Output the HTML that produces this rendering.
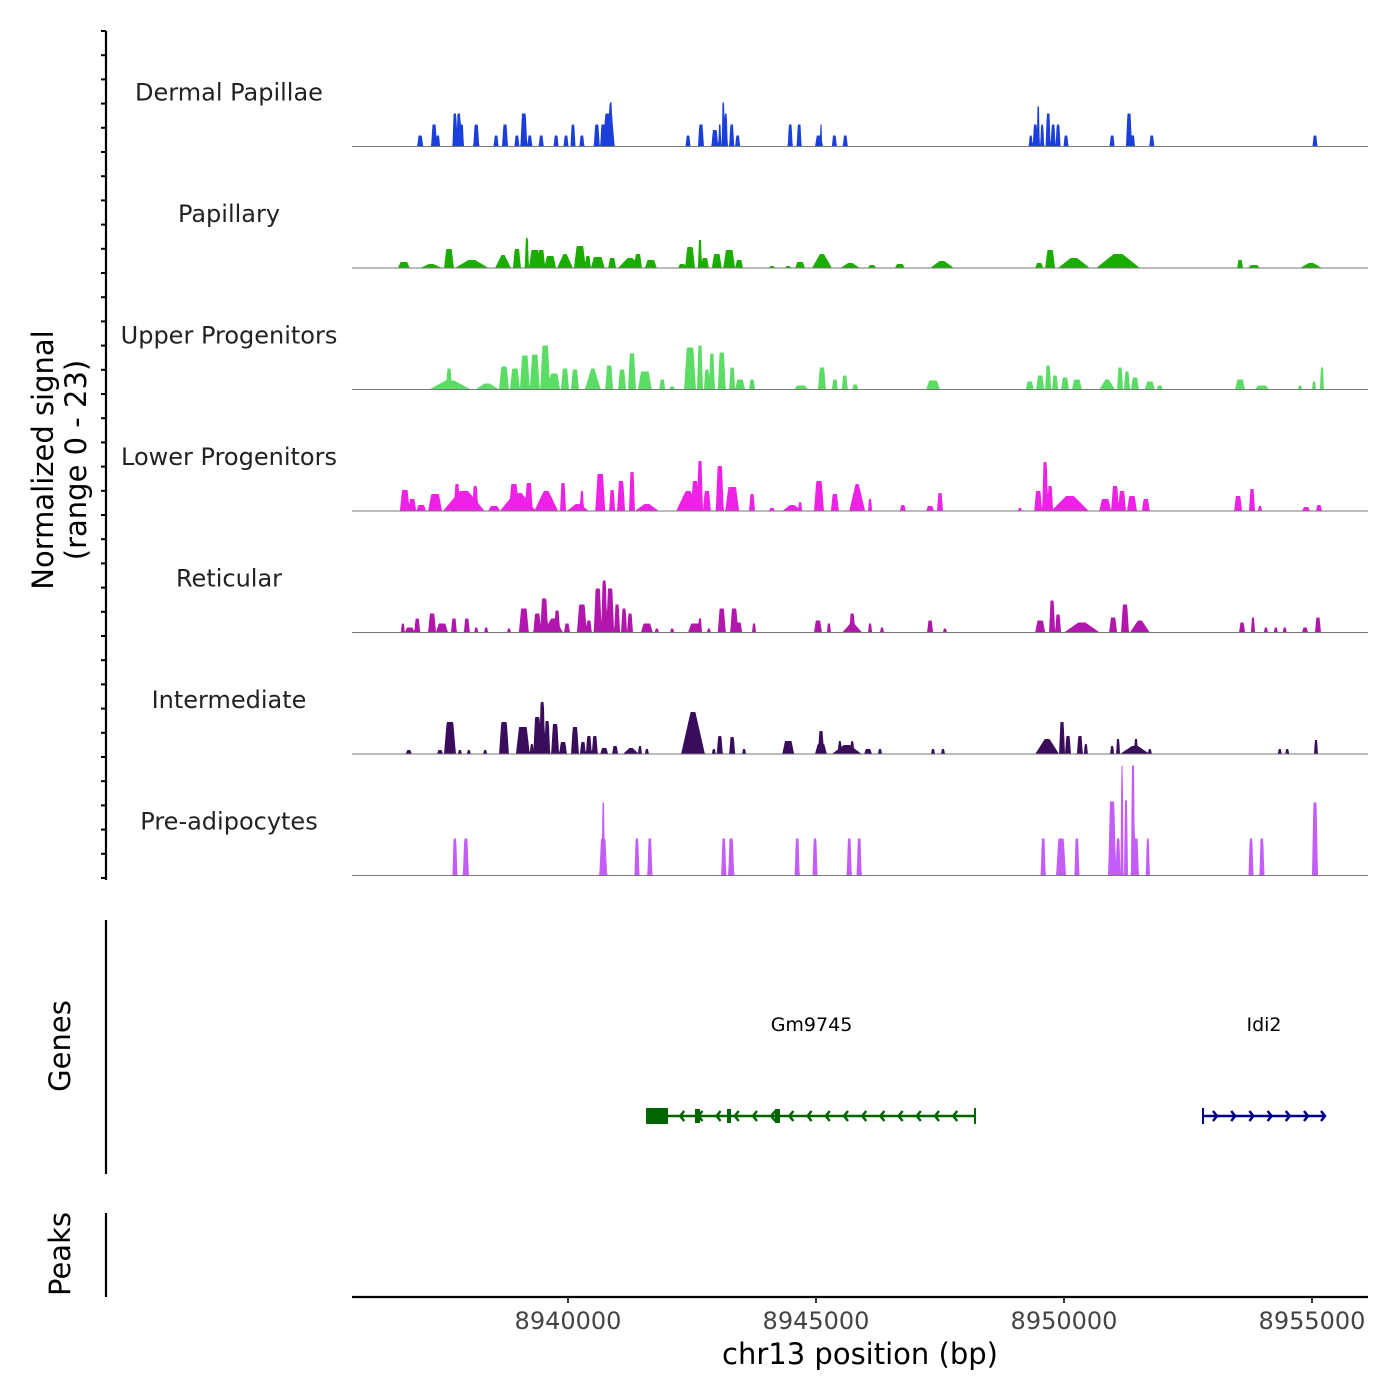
<!DOCTYPE html>
<html><head><meta charset="utf-8"><style>
html,body{margin:0;padding:0;background:#fff;}
svg{display:block;font-family:"DejaVu Sans","Liberation Sans",sans-serif;}
</style></head><body>
<svg id="chart" width="1400" height="1400" viewBox="0 0 1400 1400">
<g id="tracks"></g>
<g id="yaxis"></g>
<text transform="translate(53,460) rotate(-90)" text-anchor="middle" font-size="29" fill="#000">Normalized signal</text>
<text transform="translate(86,460) rotate(-90)" text-anchor="middle" font-size="29" fill="#000">(range 0 - 23)</text>
<line x1="106" y1="920" x2="106" y2="1174" stroke="#000" stroke-width="2.2"/>
<text transform="translate(70,1046) rotate(-90)" text-anchor="middle" font-size="29" fill="#000">Genes</text>
<g id="genes"></g>
<line x1="106" y1="1213" x2="106" y2="1297" stroke="#000" stroke-width="2.2"/>
<text transform="translate(70,1254) rotate(-90)" text-anchor="middle" font-size="29" fill="#000">Peaks</text>
<line x1="352" y1="1297" x2="1368" y2="1297" stroke="#000" stroke-width="2.2"/>
<g id="xaxis"></g>
<text x="860" y="1364" text-anchor="middle" font-size="29" fill="#000">chr13 position (bp)</text>
</svg>
<script>
// ---- data (peak: [kb offset from 8940000, half-width kb, signal]) ----
const trackNames = ["Dermal Papillae","Papillary","Upper Progenitors","Lower Progenitors","Reticular","Intermediate","Pre-adipocytes"];
const trackColors = ["#1a3fdb","#1aad00","#5bdc64","#ee22e6","#b316ad","#390c5c","#c45cfa"];
const dermalPeaks = [[-2.98,.06,2.2],[-2.70,.06,4.4],[-2.62,.04,2.2],[-2.28,.05,6.6],[-2.20,.05,6.6],[-2.14,.04,4.4],[-1.85,.06,4.4],[-1.45,.05,2.2],[-1.27,.06,4.4],[-1.03,.05,2.2],[-0.89,.07,6.6],[-0.77,.05,2.2],[-0.54,.05,2.2],[-0.24,.05,2.2],[-0.04,.05,2.2],[0.10,.05,4.4],[0.28,.05,2.2],[0.58,.06,4.4],[0.70,.05,4.4],[0.82,.12,6.6],[0.86,.04,8.8],[2.42,.05,2.2],[2.68,.06,4.4],[2.96,.07,3.3],[3.06,.03,4.4],[3.13,.03,8.8],[3.18,.04,6.6],[3.30,.05,4.4],[3.42,.05,2.2],[4.48,.05,4.4],[4.66,.05,4.4],[5.06,.08,2.2],[5.10,.02,4.4],[5.37,.05,2.2],[5.59,.05,2.2],[9.33,.04,2.2],[9.42,.05,4.4],[9.48,.03,8.0],[9.56,.04,4.4],[9.68,.05,6.6],[9.78,.05,4.4],[9.88,.05,4.4],[10.04,.05,2.2],[10.97,.05,2.2],[11.31,.06,6.6],[11.39,.04,2.2],[11.77,.05,2.2],[15.06,.05,2.2]];
const papillaryPeaks = [[-3.31,.12,1.2],[-2.76,.22,.8],[-2.40,.10,3.8],[-1.94,.34,1.6],[-1.31,.16,2.6],[-1.03,.08,3.8],[-0.83,.04,6.0],[-0.67,.12,3.6],[-0.54,.08,3.6],[-0.36,.12,2.4],[-0.06,.16,2.8],[0.24,.12,4.4],[0.40,.06,2.4],[0.60,.14,2.2],[0.89,.08,2.0],[1.25,.24,2.0],[1.41,.08,2.8],[1.67,.12,1.6],[2.30,.08,.8],[2.46,.10,4.2],[2.66,.04,5.6],[2.76,.08,2.0],[3.00,.10,2.8],[3.25,.12,3.6],[3.45,.08,1.6],[4.11,.06,.4],[4.44,.06,.4],[4.68,.10,1.2],[5.12,.20,2.8],[5.69,.20,1.0],[6.13,.08,.6],[6.69,.10,.8],[7.54,.24,1.4],[9.50,.08,1.0],[9.72,.10,3.6],[10.20,.32,2.0],[11.09,.44,2.8],[13.55,.06,1.6],[13.83,.12,.6],[14.98,.22,1.0]];
const upperPeaks = [[-2.38,.42,1.8],[-2.40,.06,4.2],[-1.63,.24,1.2],[-1.29,.10,4.6],[-1.07,.10,4.2],[-0.87,.10,6.8],[-0.67,.10,7.0],[-0.46,.10,8.8],[-0.28,.12,3.2],[-0.06,.08,4.2],[0.14,.08,4.0],[0.50,.16,4.2],[0.83,.08,4.8],[1.09,.08,4.0],[1.29,.08,7.2],[1.55,.14,3.6],[1.90,.06,2.0],[2.10,.06,.6],[2.46,.12,8.4],[2.66,.06,8.8],[2.80,.06,4.0],[2.90,.06,7.2],[3.10,.08,7.4],[3.31,.06,4.4],[3.47,.10,2.0],[3.71,.06,2.0],[4.70,.14,.8],[5.12,.08,4.4],[5.38,.06,2.0],[5.58,.06,2.8],[5.79,.06,1.0],[7.36,.14,1.8],[9.31,.08,1.6],[9.52,.08,2.8],[9.68,.06,4.8],[9.82,.06,2.8],[10.02,.08,2.4],[10.26,.10,2.0],[10.87,.16,2.0],[11.13,.06,4.4],[11.27,.06,3.6],[11.43,.08,2.4],[11.73,.10,1.6],[11.93,.06,.8],[13.55,.10,2.0],[13.99,.14,.8],[14.76,.04,.8],[15.04,.04,1.6],[15.20,.04,4.4]];
const lowerPeaks = [[-3.29,.10,4.2],[-3.14,.08,2.4],[-2.96,.10,1.2],[-2.68,.14,3.4],[-2.10,.42,4.0],[-2.24,.06,5.4],[-1.87,.06,5.0],[-1.49,.12,1.0],[-1.09,.10,5.4],[-1.01,.36,3.6],[-0.79,.08,5.6],[-0.44,.24,4.0],[-0.10,.06,5.6],[0.20,.22,1.4],[0.28,.04,4.0],[0.65,.10,7.4],[0.89,.06,4.2],[1.07,.08,6.0],[1.29,.06,7.8],[1.59,.24,1.4],[2.42,.24,4.0],[2.56,.08,6.0],[2.66,.06,10.0],[2.80,.08,4.0],[3.06,.08,9.0],[3.31,.14,4.8],[3.71,.06,3.4],[4.11,.06,.6],[4.52,.20,1.2],[4.68,.04,1.8],[5.06,.10,6.0],[5.38,.08,3.4],[5.83,.16,5.4],[6.09,.04,2.4],[6.75,.06,1.2],[7.30,.08,1.0],[7.50,.06,3.6],[9.11,.04,.6],[9.48,.08,4.0],[9.62,.06,9.8],[9.72,.06,5.0],[10.12,.38,3.0],[10.83,.12,2.4],[11.03,.08,5.0],[11.17,.08,4.0],[11.37,.10,3.0],[11.65,.08,2.4],[13.51,.08,3.0],[13.79,.06,4.4],[13.95,.04,1.0],[14.88,.08,.8],[15.14,.06,1.2]];
const reticularPeaks = [[-3.33,.04,1.8],[-3.19,.10,1.0],[-3.04,.06,2.8],[-2.74,.08,3.8],[-2.54,.12,1.8],[-2.30,.06,2.8],[-2.04,.06,2.8],[-1.85,.04,1.0],[-1.65,.04,1.0],[-1.19,.04,.8],[-0.89,.10,4.8],[-0.62,.08,3.8],[-0.48,.08,6.8],[-0.22,.06,4.4],[-0.30,.20,2.8],[-0.02,.06,1.8],[0.28,.10,5.6],[0.42,.06,2.4],[0.60,.08,8.8],[0.73,.06,10.4],[0.85,.08,8.8],[0.99,.06,5.6],[1.13,.06,4.8],[1.25,.06,3.8],[1.59,.12,1.8],[1.79,.04,.8],[2.10,.04,.8],[2.56,.14,1.8],[2.66,.04,2.8],[2.84,.04,.8],[3.10,.08,4.8],[3.35,.08,4.8],[3.45,.06,2.0],[3.75,.04,1.8],[5.04,.08,2.4],[5.26,.04,1.8],[5.73,.06,3.8],[5.73,.20,1.8],[6.09,.04,1.8],[6.33,.04,1.0],[7.30,.06,2.4],[7.60,.04,.8],[9.52,.10,2.4],[9.76,.06,6.4],[9.88,.06,3.6],[10.36,.36,2.0],[10.99,.08,3.0],[11.23,.08,5.6],[11.53,.20,2.4],[13.59,.06,2.0],[13.81,.04,3.0],[14.07,.04,1.0],[14.27,.04,1.0],[14.45,.04,1.0],[14.86,.06,1.0],[15.12,.06,3.0]];
const intermediatePeaks = [[-3.21,.06,.8],[-2.58,.06,.8],[-2.38,.12,6.4],[-2.18,.04,.8],[-2.00,.04,.8],[-1.67,.04,.8],[-1.29,.10,6.4],[-0.91,.14,5.4],[-0.73,.04,2.0],[-0.62,.08,7.4],[-0.52,.06,10.4],[-0.42,.06,6.6],[-0.26,.08,6.0],[-0.10,.08,2.4],[0.14,.08,5.4],[0.30,.06,2.4],[0.42,.06,3.6],[0.54,.06,3.6],[0.73,.08,1.2],[0.95,.06,1.6],[1.27,.16,1.2],[1.45,.04,1.6],[1.59,.04,1.0],[2.52,.24,8.4],[2.94,.04,1.0],[3.06,.06,3.6],[3.31,.06,3.4],[3.55,.04,1.0],[4.44,.12,2.6],[5.10,.06,4.6],[5.10,.12,2.0],[5.62,.30,1.8],[5.48,.04,2.6],[5.73,.04,2.6],[6.05,.08,1.0],[6.29,.04,1.0],[7.36,.04,1.0],[7.56,.04,1.0],[9.66,.24,3.0],[9.96,.06,6.4],[10.08,.06,3.6],[10.32,.06,3.6],[10.44,.04,2.0],[10.97,.04,1.6],[11.09,.04,3.0],[11.43,.30,1.6],[11.45,.04,3.0],[11.73,.04,1.0],[14.35,.04,1.0],[14.50,.04,1.0],[15.08,.04,2.8]];
const preadipoPeaks = [[-2.28,.05,7.4],[-2.06,.06,7.4],[0.71,.08,7.4],[0.71,.03,14.6],[1.39,.05,7.4],[1.65,.05,7.4],[3.14,.05,7.4],[3.29,.06,7.4],[4.62,.05,7.4],[4.98,.05,7.4],[5.67,.05,7.4],[5.87,.05,7.4],[9.58,.05,7.4],[9.94,.10,7.4],[10.26,.05,7.4],[10.97,.08,14.8],[11.09,.05,7.4],[11.17,.03,22],[11.25,.04,15],[11.39,.04,22],[11.45,.06,7.4],[11.69,.04,7.4],[13.77,.05,7.4],[13.99,.05,7.4],[15.06,.06,14.6]];
const allPeaks = [dermalPeaks,papillaryPeaks,upperPeaks,lowerPeaks,reticularPeaks,intermediatePeaks,preadipoPeaks];
const xTicks = [8940000,8945000,8950000,8955000];
const geneNames = ["Gm9745","Idi2"];
const geneStarts = [8941613,8952802];
const geneEnds = [8948206,8955262];
const geneStrands = [-1,1];
const gm9745Exons = [[8941573,8942016],[8942560,8942661],[8943206,8943286],[8944173,8944274]];

// ---- scales ----
const NS="http://www.w3.org/2000/svg";
const X0=352,X1=1368;
function xScale(bp){return 568+(bp-8940000)/1000*49.6;}
function xInv(px){return 8940000+(px-568)/49.6*1000;}
const trackTop=25, trackH=121.5, pxPerUnit=5;
function baseY(i){return trackTop+trackH*(i+1);}
function mk(tag,attrs,parent){const e=document.createElementNS(NS,tag);for(const k in attrs)e.setAttribute(k,attrs[k]);parent.appendChild(e);return e;}
function profile(peaks,bp){let v=0;for(const p of peaks){const c=8940000+p[0]*1000,hw=p[1]*1000;const d=Math.abs(bp-c);if(d<hw){const taper=hw>150?0.8:0.45;const f=Math.min(1,(hw-d)/(hw*taper));v=Math.max(v,p[2]*f);}}return v;}

const tracks=document.getElementById('tracks');
allPeaks.forEach((peaks,i)=>{
  const by=baseY(i);
  const g=mk('g',{},tracks);
  
  
  let d='M'+X0+','+by;
  for(let px=X0;px<=X1;px+=0.5){const v=profile(peaks,xInv(px));d+=' L'+px+','+(by-v*pxPerUnit).toFixed(2);}
  d+=' L'+X1+','+by+' Z';
  const area=mk('path',{d:d,fill:trackColors[i],stroke:'none'},g);
  
  
  const bl=mk('line',{x1:X0,y1:by,x2:X1,y2:by,stroke:'#777','stroke-width':1},g);
  
  
  const lb=mk('text',{x:229,y:by-46,'text-anchor':'middle','font-size':24,fill:'#222'},g);
  lb.textContent=trackNames[i];
  
  
});

// y axis with ticks
const ya=document.getElementById('yaxis');
mk('line',{x1:106,y1:31,x2:106,y2:880,stroke:'#000','stroke-width':2.2},ya);
for(let k=0;k<36;k++){const y=878-k*24.2;const t=mk('line',{x1:101,y1:y,x2:106,y2:y,stroke:'#000','stroke-width':2},ya);
  
  }

// x axis
const xa=document.getElementById('xaxis');
xTicks.forEach(v=>{const x=xScale(v);
  mk('line',{x1:x,y1:1297,x2:x,y2:1303,stroke:'#333','stroke-width':2},xa);
  const t=mk('text',{x:x,y:1329,'text-anchor':'middle','font-size':24,fill:'#444'},xa);
  t.textContent=String(v);
  
  
});

// genes
const gg=document.getElementById('genes');
const gy=1116, gcol=['#006400','#00008b'];
geneNames.forEach((n,i)=>{
  const g=mk('g',{},gg);
  
  
  const xs=xScale(geneStarts[i]),xe=xScale(geneEnds[i]),c=gcol[i];
  mk('line',{x1:xs,y1:gy,x2:xe,y2:gy,stroke:c,'stroke-width':2.5},g);
  const tickX=geneStrands[i]<0?xe:xs;
  mk('line',{x1:tickX,y1:gy-8,x2:tickX,y2:gy+8,stroke:c,'stroke-width':2},g);
  const st=geneStrands[i];
  for(let x=xs+14;x<xe-4;x+=18.2){
    const pts=st<0?`${x+4},${gy-5} ${x},${gy} ${x+4},${gy+5}`:`${x-4},${gy-5} ${x},${gy} ${x-4},${gy+5}`;
    mk('polyline',{points:pts,fill:'none',stroke:c,'stroke-width':2.5},g);
  }
  if(st>0){mk('polyline',{points:`${xe-4},${gy-5} ${xe},${gy} ${xe-4},${gy+5}`,fill:'none',stroke:c,'stroke-width':2.5},g);}
  const t=mk('text',{x:(xs+xe)/2,y:1031,'text-anchor':'middle','font-size':19,fill:'#000'},g);
  t.textContent=n;
  
  
});
gm9745Exons.forEach((e,j)=>{
  const x1=xScale(e[0]),x2=xScale(e[1]);const h=j===0?16:14;
  const r=mk('rect',{x:x1,y:gy-h/2,width:Math.max(4,x2-x1),height:h,fill:'#006400'},gg);
  
  
});
</script>
</body></html>
